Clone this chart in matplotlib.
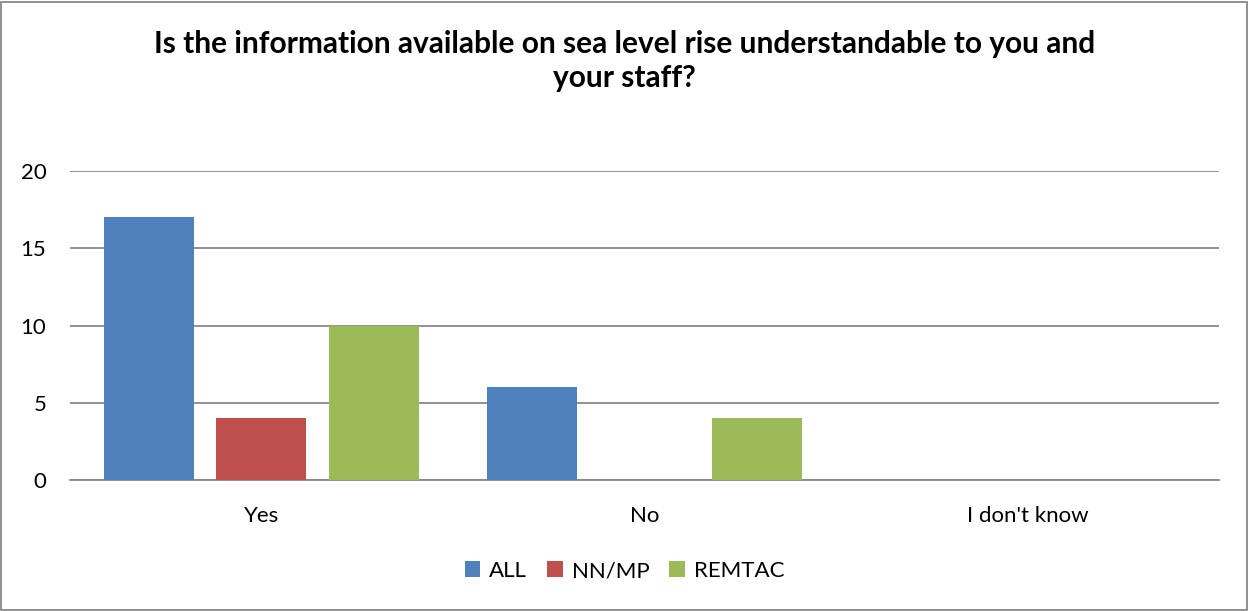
import numpy as np
import matplotlib.pyplot as plt
from matplotlib.patches import Rectangle

plt.rcParams['font.family'] = ['Lato', 'DejaVu Sans']

categories = ["Yes", "No", "I don't know"]
series_names = ["ALL", "NN/MP", "REMTAC"]
all_vals = [17, 6, 0]
nnmp_vals = [4, 0, 0]
remtac_vals = [10, 4, 0]
colors = ['#4f81bd', '#c0504d', '#9bbb59']

fig = plt.figure(figsize=(12.49, 6.11), dpi=100)
ax = fig.add_axes([0.056, 0.2144, 0.920, 0.5057])

x = np.arange(len(categories))
width = 0.235
step = 0.294
for i, (vals, name) in enumerate(zip([all_vals, nnmp_vals, remtac_vals], series_names)):
    ax.bar(x + (i - 1) * step, vals, width, color=colors[i], label=name, zorder=3)

ax.set_xlim(-0.5, 2.5)
ax.set_ylim(0, 20)
ax.set_yticks([0, 5, 10, 15, 20])
ax.set_xticks(x)
ax.set_xticklabels(categories)
ax.yaxis.grid(True, color='#888888', linewidth=1.3, zorder=0)
for s in ['top', 'right', 'left']:
    ax.spines[s].set_visible(False)
ax.spines['bottom'].set_color('#888888')
ax.spines['bottom'].set_linewidth(1.3)
ax.tick_params(axis='both', length=0, labelsize=16, colors='black')
ax.tick_params(axis='y', pad=17)
ax.tick_params(axis='x', pad=19)

fig.text(0.5, 1 - 61/611, "Is the information available on sea level rise understandable to you and\nyour staff?",
         ha='center', va='center', fontsize=21.5, fontweight='bold', linespacing=1.3)

ax.legend(loc='center', bbox_to_anchor=(0.5, 1 - 571/611), bbox_transform=fig.transFigure,
          ncol=3, frameon=False, fontsize=16, handlelength=0.7, handleheight=0.7,
          handletextpad=0.4, columnspacing=0.9)

fig.patches.append(Rectangle((0.001, 0.002), 0.997, 0.995, transform=fig.transFigure,
                             fill=False, edgecolor='#888888', linewidth=1.3))

fig.savefig('out.png', dpi=100)
